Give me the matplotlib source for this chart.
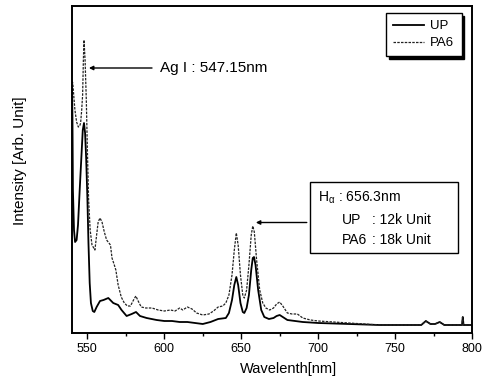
import matplotlib
matplotlib.use("Agg")
import matplotlib.pyplot as plt
from matplotlib.patches import Rectangle
from matplotlib.ticker import MultipleLocator

plt.rcParams['font.family'] = ['Liberation Sans', 'DejaVu Sans']
plt.rcParams['mathtext.fontset'] = 'custom'
plt.rcParams['mathtext.rm'] = 'Liberation Sans'
plt.rcParams['mathtext.it'] = 'Liberation Sans'

# ---- data (wavelength nm, intensity arb. unit) ----
pa6_wl = [540.0, 540.5, 541.2, 541.9, 543.0, 544.1, 545.0, 545.6, 546.3, 546.9,
          547.4, 547.8, 548.5, 549.3, 550.0, 550.8, 551.8, 553.0, 554.9, 556.0,
          557.0, 558.2, 559.5, 561.0, 562.5, 564.0, 565.0, 566.0, 567.5, 568.5,
          570.0, 572.0, 574.0, 576.0, 578.0, 580.0, 581.5, 583.0, 585.0, 588.0,
          592.0, 596.0, 600.0, 604.0, 607.0, 610.0, 612.0, 615.0, 618.0, 621.0,
          625.0, 629.0, 632.0, 635.0, 638.0, 640.0, 642.0, 644.0, 645.5, 646.8,
          648.0, 649.5, 651.0, 652.0, 653.5, 655.0, 656.5, 657.5, 658.5, 660.0,
          662.0, 664.0, 666.0, 668.5, 671.0, 673.0, 675.0, 677.0, 680.0, 683.0,
          686.5, 690.0, 695.0, 700.0, 710.0, 720.0, 730.0, 740.0, 750.0, 767.0,
          770.0, 773.0, 776.0, 779.0, 782.0, 793.5, 794.0, 794.5, 800.0]
pa6_int = [252, 250, 236, 223, 211, 206, 207, 210, 223, 238,
           273, 293, 273, 233, 183, 133, 103, 88, 83, 98,
           111, 115, 111, 101, 93, 90, 88, 75, 68, 63,
           48, 36, 30, 27, 27, 33, 37, 32, 26, 25,
           25, 23, 22, 23, 22, 25, 23, 26, 24, 20,
           18, 19, 22, 26, 27, 30, 38, 58, 83, 100,
           88, 58, 38, 35, 43, 68, 98, 107, 101, 73,
           43, 30, 25, 23, 25, 29, 31, 27, 20, 19,
           19, 15, 13, 12, 11, 10, 9, 8, 8, 8,
           12, 9, 9, 11, 8, 8, 16, 8, 8]

up_wl = [540.0, 540.3, 540.6, 541.3, 542.0, 543.0, 543.9, 545.0, 546.0, 547.0,
         547.8, 548.5, 549.2, 550.0, 550.7, 551.5, 552.3, 553.5, 554.5, 556.0,
         558.2, 560.5, 563.6, 566.8, 570.0, 572.2, 575.5, 578.8, 581.6, 584.2,
         588.5, 595.0, 600.0, 605.0, 610.0, 615.0, 620.0, 625.0, 630.0, 635.0,
         640.0, 642.0, 644.0, 645.5, 646.8, 648.0, 649.5, 651.0, 652.0, 653.5,
         655.0, 656.5, 657.5, 658.3, 659.3, 661.0, 663.0, 665.0, 668.0, 671.0,
         673.0, 675.0, 677.0, 680.0, 685.0, 690.0, 700.0, 720.0, 740.0, 767.0,
         770.0, 773.0, 776.0, 779.0, 782.0, 793.5, 794.0, 794.5, 800.0]
up_int = [245, 215, 143, 103, 91, 93, 108, 143, 173, 203,
          210, 200, 175, 135, 90, 50, 30, 22, 21, 26,
          32, 33, 35, 30, 28, 23, 17, 19, 21, 17,
          15, 13, 12, 12, 11, 11, 10, 9, 11, 14,
          15, 20, 33, 48, 56, 48, 30, 21, 20, 25,
          38, 63, 75, 76, 68, 43, 23, 16, 14, 15,
          17, 18, 16, 13, 12, 11, 10, 9, 8, 8,
          12, 9, 9, 11, 8, 8, 16, 8, 8]

xticks = [550, 600, 650, 700, 750, 800]
series_names = ['UP', 'PA6']

# ---- figure ----
fig = plt.figure(figsize=(4.9, 3.81), dpi=100)
ax = fig.add_axes([72/490, 48/381, 400/490, 327/381])

ax.plot(up_wl, up_int, color='black', lw=1.3, label=series_names[0])
ax.plot(pa6_wl, pa6_int, color='#222222', lw=0.9, linestyle=(0, (2, 1)),
        label=series_names[1])

ax.set_xlim(540, 800)
ax.set_ylim(0, 327)
ax.set_xticks(xticks)
ax.xaxis.set_minor_locator(MultipleLocator(25))
ax.set_yticks([])
ax.tick_params(axis='x', which='major', direction='out', length=4, width=1,
               labelsize=9, pad=3, top=False)
ax.tick_params(axis='x', which='minor', direction='out', length=2.5, width=1, top=False)
for s in ax.spines.values():
    s.set_linewidth(1.4)

ax.set_xlabel('Wavelenth[nm]', fontsize=10.5, va='center')
ax.xaxis.set_label_coords(0.54, -0.110)
ax.set_ylabel('Intensity [Arb. Unit]', fontsize=11, va='center')
ax.yaxis.set_label_coords(-0.13, 0.526)

leg = ax.legend(loc='upper left', bbox_to_anchor=(0.785, 0.979), borderaxespad=0,
                fontsize=9.5, handlelength=2.3, handletextpad=0.5, borderpad=0.55,
                labelspacing=0.35, fancybox=False, edgecolor='black',
                shadow={'color': 'black', 'alpha': 1.0})
leg.get_frame().set_linewidth(1.0)

# Ag I annotation
ax.annotate('', xy=(551.0, 265), xytext=(592.0, 265),
            arrowprops=dict(arrowstyle='-|>', color='black', lw=1.0,
                            mutation_scale=6, shrinkA=0, shrinkB=0))
ax.text(597.0, 265, 'Ag I : 547.15nm', fontsize=11, va='center', ha='left')

# H-alpha annotation box
ax.add_patch(Rectangle((694.6, 80), 96.1, 71, fill=False, edgecolor='black', lw=1.0))
ax.annotate('', xy=(659.5, 110.5), xytext=(692.6, 110.5),
            arrowprops=dict(arrowstyle='-|>', color='black', lw=1.0,
                            mutation_scale=6, shrinkA=0, shrinkB=0))
ax.text(699.8, 135, r'H$_{\alpha}$ : 656.3nm', fontsize=10, va='center', ha='left')
ax.text(715.3, 113, 'UP', fontsize=10, va='center', ha='left')
ax.text(735.0, 113, ': 12k Unit', fontsize=10, va='center', ha='left')
ax.text(715.3, 93, 'PA6', fontsize=10, va='center', ha='left')
ax.text(735.0, 93, ': 18k Unit', fontsize=10, va='center', ha='left')

fig.savefig('out.png', dpi=100)
